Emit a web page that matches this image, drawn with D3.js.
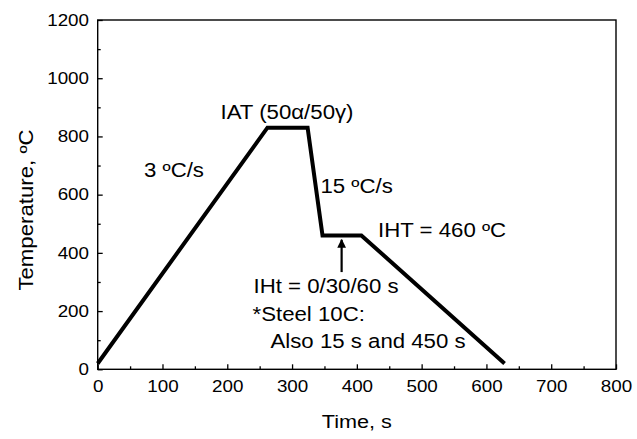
<!DOCTYPE html>
<html>
<head>
<meta charset="utf-8">
<script src="https://cdnjs.cloudflare.com/ajax/libs/d3/7.8.5/d3.min.js"></script>
<style>
  body { margin: 0; background: #fff; }
  text { font-family: "Liberation Sans", Arial, sans-serif; fill: #000; }
</style>
</head>
<body>
<svg id="chart" width="637" height="439"></svg>
<script>
// heat treatment path: time (s) vs temperature (C)
timeValues = [0, 262, 324, 347, 407, 628];
tempValues = [20, 830, 830, 460, 460, 20];
xTicks = [0, 100, 200, 300, 400, 500, 600, 700, 800];
yTicks = [0, 200, 400, 600, 800, 1000, 1200];
// arrow marking the isothermal hold
arrowTime = [376.5, 376.5];
arrowTemp = [334, 445];

width = 637
height = 439
margin = {left: 97.7, right: 21, top: 20, bottom: 69.7}
stretchX = 1.14   // glyphs in the original are a bit wide

svg = d3.select("#chart")

x = d3.scaleLinear().domain([0, 800]).range([margin.left, width - margin.right]);
y = d3.scaleLinear().domain([0, 1200]).range([height - margin.bottom, margin.top]);

// frame
svg.append("rect")
    .attr("x", x(0))
    .attr("y", y(1200))
    .attr("width", x(800) - x(0))
    .attr("height", y(0) - y(1200))
    .attr("fill", "none")
    .attr("stroke", "#000")
    .attr("stroke-width", 1.4)

// axes with inward ticks
xAxis = svg.append("g")
    .attr("transform", "translate(0," + y(0) + ")")
    .call(d3.axisBottom(x).tickValues(xTicks).tickSize(-5).tickPadding(11).tickFormat(d3.format("d")))
xMinor = svg.append("g")
    .attr("transform", "translate(0," + y(0) + ")")
    .call(d3.axisBottom(x).tickValues(d3.range(50, 800, 100)).tickSize(-3).tickFormat(""))
yAxis = svg.append("g")
    .attr("transform", "translate(" + x(0) + ",0)")
    .call(d3.axisLeft(y).tickValues(yTicks).tickSize(-5).tickPadding(7.6).tickFormat(d3.format("d")))
yMinor = svg.append("g")
    .attr("transform", "translate(" + x(0) + ",0)")
    .call(d3.axisLeft(y).tickValues(d3.range(100, 1200, 200)).tickSize(-3).tickFormat(""))

svg.selectAll(".domain").remove()
svg.selectAll(".tick line").attr("stroke", "#000").attr("stroke-width", 1.3)
svg.selectAll(".tick text")
    .style("font-size", "16.5px")
    .attr("fill", "#000")
    .attr("transform", "scale(" + stretchX + ",1)")
xAxis.selectAll(".tick text")
    .attr("x", 0)
    .attr("transform", function(d) { return "translate(0,0) scale(" + stretchX + ",1)"; })

// axis titles
svg.append("text")
    .text("Time, s")
    .attr("transform", "translate(" + (x(0) + x(800)) / 2 + ",428) scale(" + stretchX + ",1)")
    .style("text-anchor", "middle")
    .style("font-size", "19px")
svg.append("text")
    .text("Temperature, ºC")
    .attr("transform", "translate(33,210) rotate(-90) scale(" + stretchX + ",1)")
    .style("text-anchor", "middle")
    .style("font-size", "19.5px")

// the path
line = d3.line()
    .x((d, i) => x(timeValues[i]))
    .y((d, i) => y(tempValues[i]))
svg.append("path")
    .datum(timeValues)
    .attr("d", line)
    .attr("fill", "none")
    .attr("stroke", "#000")
    .attr("stroke-width", 4)
    .attr("stroke-linejoin", "miter")

// arrow pointing at the hold
svg.append("defs").append("marker")
    .attr("id", "head")
    .attr("viewBox", "0 0 10 10")
    .attr("refX", 9)
    .attr("refY", 5)
    .attr("markerWidth", 4)
    .attr("markerHeight", 4.5)
    .attr("markerUnits", "strokeWidth")
    .attr("orient", "auto")
    .append("path")
    .attr("d", "M0,0 L10,5 L0,10 Z")
    .attr("fill", "#000")
svg.append("line")
    .attr("x1", x(arrowTime[0]))
    .attr("y1", y(arrowTemp[0]))
    .attr("x2", x(arrowTime[1]))
    .attr("y2", y(arrowTemp[1]))
    .attr("stroke", "#000")
    .attr("stroke-width", 2.2)
    .attr("marker-end", "url(#head)")

// annotations
notes = [
    {x: 144, y: 177, text: "3 ºC/s"},
    {x: 220.5, y: 119, text: "IAT (50α/50γ)"},
    {x: 320.5, y: 193, text: "15 ºC/s"},
    {x: 378, y: 237, text: "IHT = 460 ºC"},
    {x: 253.5, y: 292.5, text: "IHt = 0/30/60 s"},
    {x: 252.5, y: 320.5, text: "*Steel 10C:"},
    {x: 270.5, y: 348, text: "Also 15 s and 450 s"}
]
svg.selectAll(".note")
    .data(notes).enter()
    .append("text")
    .attr("class", "note")
    .attr("transform", (d) => "translate(" + d.x + "," + d.y + ") scale(" + stretchX + ",1)")
    .text((d) => d.text)
    .style("font-size", "19.5px")
</script>
</body>
</html>
